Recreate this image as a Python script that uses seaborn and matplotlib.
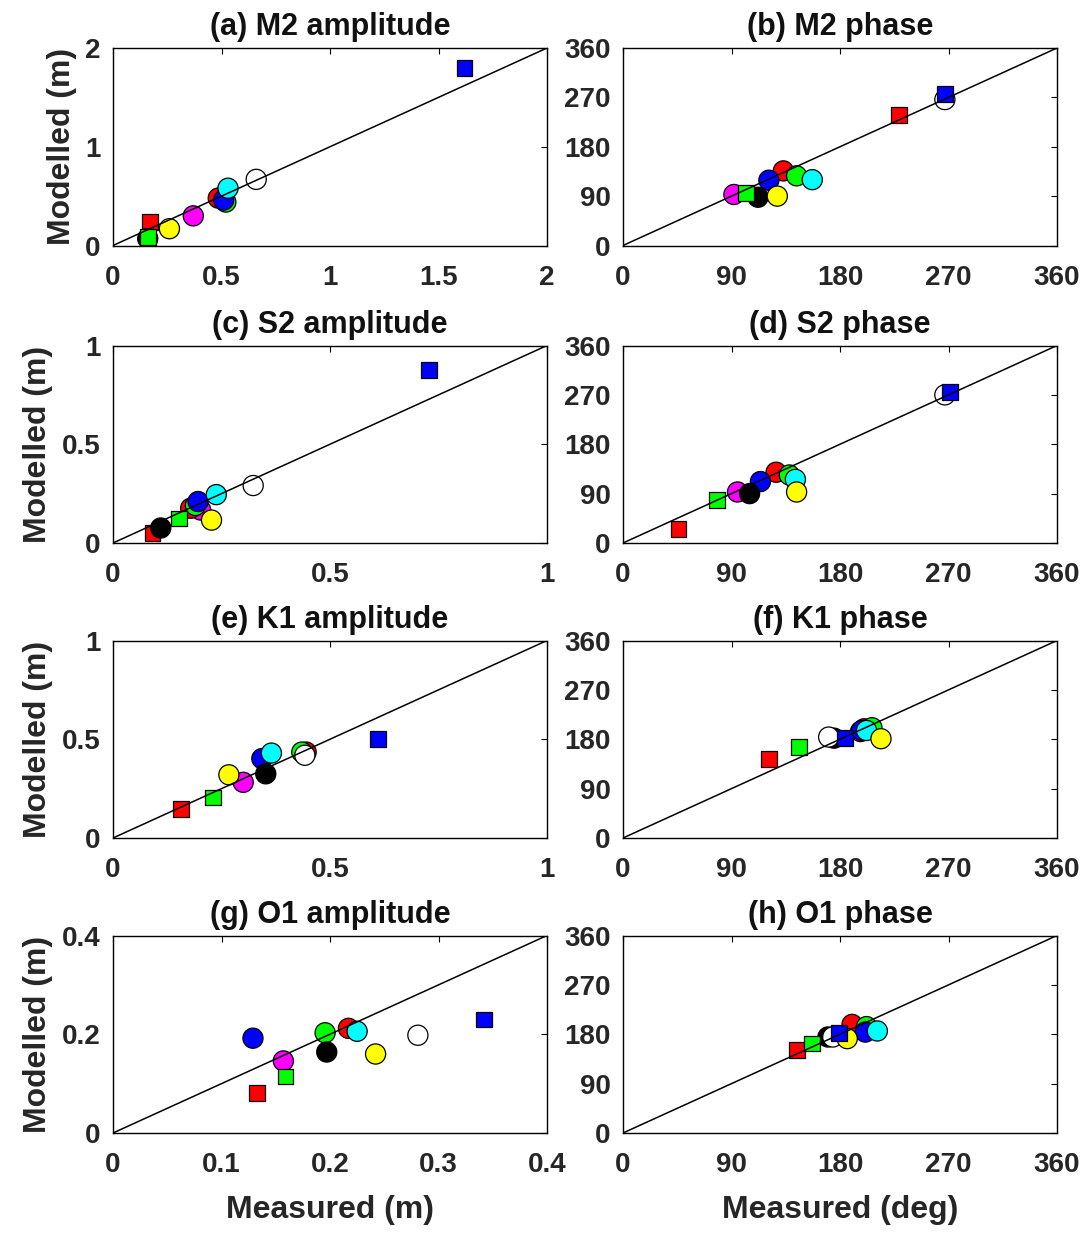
import matplotlib
matplotlib.use("Agg")
import matplotlib.pyplot as plt
import seaborn as sns
import pandas as pd

# ---------------- data ----------------
site_ids = ["W", "K", "B", "C", "G", "R", "M", "Y", "Rs", "Gs", "Bs"]
site_colors = ["white", "black", "blue", "cyan", "lime", "red", "magenta", "yellow",
               "red", "lime", "blue"]
site_markers = ["o", "o", "o", "o", "o", "o", "o", "o", "s", "s", "s"]
draw_order = ["M", "R", "G", "B", "C", "Rs", "K", "W", "Gs", "Y", "Bs"]

# (a) M2 amplitude (m)
m2_amp_meas = [0.66, 0.16, 0.51, 0.53, 0.52, 0.485, 0.37, 0.26, 0.17, 0.16, 1.62]
m2_amp_mod = [0.67, 0.07, 0.46, 0.58, 0.44, 0.48, 0.30, 0.17, 0.24, 0.09, 1.80]
# (b) M2 phase (deg)
m2_pha_meas = [267, 112, 121, 157, 144, 133, 92, 128, 229, 102, 267]
m2_pha_mod = [266, 88, 119, 120, 127, 136, 93, 90, 238, 95, 276]
# (c) S2 amplitude (m)
s2_amp_meas = [0.323, 0.11, 0.196, 0.238, 0.19, 0.179, 0.202, 0.227, 0.091, 0.152, 0.729]
s2_amp_mod = [0.291, 0.076, 0.21, 0.245, 0.19, 0.176, 0.167, 0.116, 0.052, 0.124, 0.878]
# (d) S2 phase (deg)
s2_pha_meas = [267, 105, 114, 143, 138, 127, 95, 144, 46, 78, 271]
s2_pha_mod = [270, 90, 112, 116, 124, 129, 93, 93, 26, 78, 275]
# (e) K1 amplitude (m)
k1_amp_meas = [0.442, 0.352, 0.343, 0.365, 0.435, 0.445, 0.30, 0.267, 0.156, 0.23, 0.61]
k1_amp_mod = [0.419, 0.325, 0.402, 0.43, 0.435, 0.435, 0.282, 0.32, 0.145, 0.205, 0.50]
# (f) K1 phase (deg)
k1_pha_meas = [170.6, 175, 198, 202, 206.5, 200, 197, 214, 121, 146, 184]
k1_pha_mod = [184, 182, 196, 196, 201, 199, 194, 181, 144, 165.5, 182]
# (g) O1 amplitude (m)
o1_amp_meas = [0.281, 0.197, 0.129, 0.225, 0.1955, 0.217, 0.157, 0.242, 0.1325, 0.159, 0.342]
o1_amp_mod = [0.198, 0.164, 0.192, 0.206, 0.203, 0.212, 0.146, 0.160, 0.081, 0.1145, 0.230]
# (h) O1 phase (deg)
o1_pha_meas = [174, 170, 201, 211, 202, 190, 195, 186, 144, 157, 179]
o1_pha_mod = [175, 175, 184, 186, 194, 198, 190, 172, 152, 163, 183]

panel_titles = ["(a) M2 amplitude", "(b) M2 phase", "(c) S2 amplitude", "(d) S2 phase",
                "(e) K1 amplitude", "(f) K1 phase", "(g) O1 amplitude", "(h) O1 phase"]
panel_meas = [m2_amp_meas, m2_pha_meas, s2_amp_meas, s2_pha_meas,
              k1_amp_meas, k1_pha_meas, o1_amp_meas, o1_pha_meas]
panel_mod = [m2_amp_mod, m2_pha_mod, s2_amp_mod, s2_pha_mod,
             k1_amp_mod, k1_pha_mod, o1_amp_mod, o1_pha_mod]

m2_amp_ticks = [0, 0.5, 1, 1.5, 2]
m2_amp_labels = ["0", "0.5", "1", "1.5", "2"]
m2_amp_yticks = [0, 1, 2]
m2_amp_ylabels = ["0", "1", "2"]
one_ticks = [0, 0.5, 1]
one_labels = ["0", "0.5", "1"]
o1_xticks = [0, 0.1, 0.2, 0.3, 0.4]
o1_xlabels = ["0", "0.1", "0.2", "0.3", "0.4"]
o1_yticks = [0, 0.2, 0.4]
o1_ylabels = ["0", "0.2", "0.4"]
phase_ticks = [0, 90, 180, 270, 360]
phase_labels = ["0", "90", "180", "270", "360"]

amp_limits = [2, 1, 1, 0.4]

# ---------------- style ----------------
sns.set_style("white")
plt.rcParams["font.family"] = ["Liberation Sans", "DejaVu Sans"]
plt.rcParams["font.weight"] = "bold"
text_color = "#262626"

W, H = 1088, 1234
fig = plt.figure(figsize=(W / 100, H / 100), dpi=100)

left_cols = [113, 623]
col_width = 434
row_tops = [48, 345.5, 640.5, 935.5]
row_height = 197.5

palette = dict(zip(site_ids, site_colors))
markers = dict(zip(site_ids, site_markers))
sizes = {s: (130 if m == "s" else 210) for s, m in zip(site_ids, site_markers)}

for i in range(8):
    row, col = divmod(i, 2)
    x0 = left_cols[col] / W
    y0 = 1 - (row_tops[row] + row_height) / H
    ax = fig.add_axes([x0, y0, col_width / W, row_height / H])

    df = pd.DataFrame({"site": site_ids, "meas": panel_meas[i], "mod": panel_mod[i]})
    df["order"] = df["site"].map({s: k for k, s in enumerate(draw_order)})
    df = df.sort_values("order")

    sns.scatterplot(data=df, x="meas", y="mod", hue="site", style="site", size="site",
                    palette=palette, markers=markers, sizes=sizes,
                    hue_order=draw_order, style_order=draw_order, size_order=draw_order,
                    edgecolor="black", linewidth=0.9, legend=False, ax=ax, zorder=2)
    ax.axline((0, 0), slope=1, color="black", linewidth=1.1, zorder=3)

    if col == 0:
        lim = amp_limits[row]
        ax.set_xlim(0, lim)
        ax.set_ylim(0, lim)
        if row == 0:
            ax.set_xticks(m2_amp_ticks, m2_amp_labels)
            ax.set_yticks(m2_amp_yticks, m2_amp_ylabels)
        elif row == 3:
            ax.set_xticks(o1_xticks, o1_xlabels)
            ax.set_yticks(o1_yticks, o1_ylabels)
        else:
            ax.set_xticks(one_ticks, one_labels)
            ax.set_yticks(one_ticks, one_labels)
        ax.set_ylabel("Modelled (m)", fontsize=23, fontweight="bold",
                      color=text_color, labelpad=6)
    else:
        ax.set_xlim(0, 360)
        ax.set_ylim(0, 360)
        ax.set_xticks(phase_ticks, phase_labels)
        ax.set_yticks(phase_ticks, phase_labels)
        ax.set_ylabel("")

    if row == 3:
        ax.set_xlabel("Measured (m)" if col == 0 else "Measured (deg)", fontsize=23,
                      fontweight="bold", color=text_color, labelpad=12)
    else:
        ax.set_xlabel("")

    ax.set_title(panel_titles[i], fontsize=22, fontweight="bold", color="#111111", pad=9)
    ax.tick_params(direction="in", length=4, width=0.8, top=True, right=True,
                   labelsize=20, labelcolor=text_color, colors="black")
    ax.tick_params(axis="x", pad=14)
    ax.tick_params(axis="y", pad=9)
    for lab in ax.get_xticklabels() + ax.get_yticklabels():
        lab.set_fontweight("bold")
    for sp in ax.spines.values():
        sp.set_visible(True)
        sp.set_color("black")
        sp.set_linewidth(1.0)

fig.savefig("out.png", dpi=100)
